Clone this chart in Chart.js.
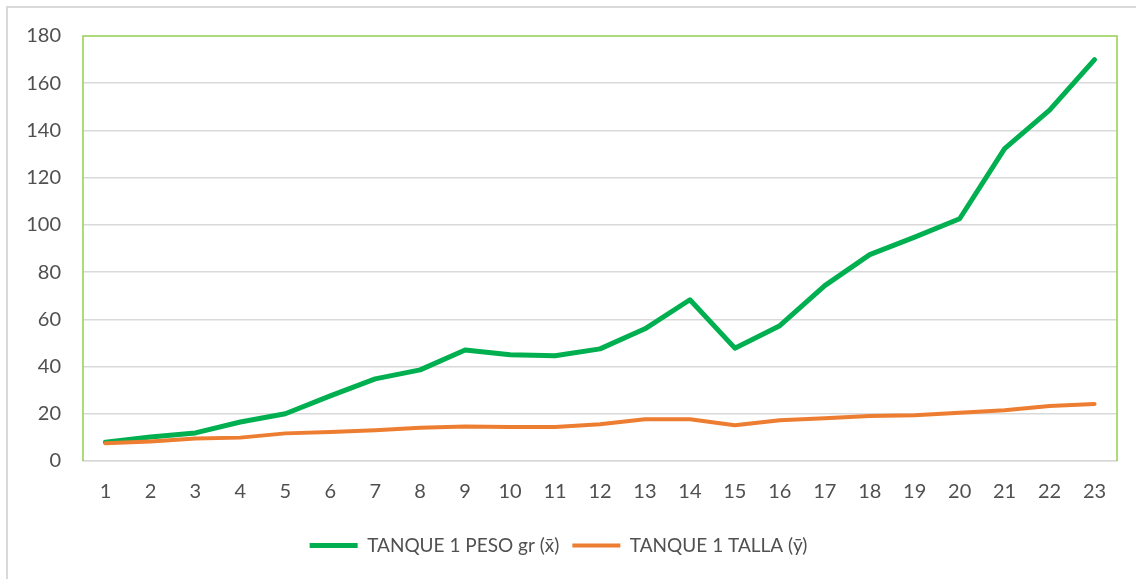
<!DOCTYPE html>
<html>
<head>
<meta charset="utf-8">
<script src="https://cdn.jsdelivr.net/npm/chart.js@4.4.1/dist/chart.umd.min.js"></script>
<style>
    html, body { margin: 0; padding: 0; background: #ffffff; }
    #wrap { position: absolute; left: 0; top: 0; width: 1136px; height: 579px; }
</style>
</head>
<body>
<div id="wrap"><canvas id="lineChart"></canvas></div>
<script>
// 横軸のラベル（1〜23）
const labels = ['1', '2', '3', '4', '5', '6', '7', '8', '9', '10', '11', '12',
                '13', '14', '15', '16', '17', '18', '19', '20', '21', '22', '23'];

// 系列名
const pesoLabel  = 'TANQUE 1 PESO gr (x̄)';
const tallaLabel = 'TANQUE 1 TALLA (ȳ)';

// 体重（緑の線）
const pesoValues = [8, 10.2, 11.9, 16.5, 20, 27.6, 34.8, 38.6, 47, 45, 44.6, 47.5,
                    56, 68.3, 47.8, 57.3, 74.3, 87.4, 94.8, 102.6, 132.3, 148.6, 170];

// 体長（オレンジの線）
const tallaValues = [7.5, 8.3, 9.5, 9.9, 11.7, 12.3, 13, 14.1, 14.6, 14.4, 14.4, 15.6,
                     17.7, 17.7, 15.1, 17.3, 18.1, 19.1, 19.4, 20.4, 21.5, 23.3, 24.1];

// 縦軸の範囲
const yMin  = 0;
const yMax  = 180;
const yStep = 20;

const textColor = '#505050';
const gridColor = '#D9D9D9';
const frameColor = '#92D050';
const fontFamily = 'Lato, "Open Sans", sans-serif';

// 外枠とプロットエリアの緑の枠を描くプラグイン
const framePlugin = {
    id: 'frame',
    beforeDraw(chart) {
        const ctx = chart.ctx;
        ctx.save();
        ctx.strokeStyle = gridColor;
        ctx.lineWidth = 2;
        ctx.beginPath();
        ctx.moveTo(7, chart.height);
        ctx.lineTo(7, 7);
        ctx.lineTo(chart.width, 7);
        ctx.stroke();
        ctx.restore();
    },
    beforeDatasetsDraw(chart) {
        const a = chart.chartArea;
        const ctx = chart.ctx;
        ctx.save();
        ctx.strokeStyle = frameColor;
        ctx.lineWidth = 1.5;
        ctx.beginPath();
        ctx.moveTo(a.left, a.bottom);
        ctx.lineTo(a.left, a.top);
        ctx.lineTo(a.right, a.top);
        ctx.lineTo(a.right, a.bottom);
        ctx.stroke();
        ctx.restore();
    }
};

const ctx = document.getElementById('lineChart').getContext('2d');
const lineChart = new Chart(ctx, {
    type: 'line',
    data: {
        labels: labels,
        datasets: [
            {
                label: pesoLabel,
                data: pesoValues,
                borderColor: '#00B050',
                backgroundColor: '#00B050',
                borderWidth: 5,
                borderCapStyle: 'round',
                borderJoinStyle: 'round',
                pointRadius: 0,
                tension: 0,
                order: 1
            },
            {
                label: tallaLabel,
                data: tallaValues,
                borderColor: '#ED7D31',
                backgroundColor: '#ED7D31',
                borderWidth: 4,
                borderCapStyle: 'round',
                borderJoinStyle: 'round',
                pointRadius: 0,
                tension: 0,
                order: 0
            }
        ]
    },
    options: {
        responsive: true,
        maintainAspectRatio: false,
        animation: false,
        layout: {
            padding: { left: 0, right: 19, top: 36, bottom: 14 }
        },
        plugins: {
            tooltip: { enabled: false },
            legend: {
                position: 'bottom',
                labels: {
                    usePointStyle: true,
                    pointStyle: 'line',
                    pointStyleWidth: 48,
                    boxHeight: 5,
                    padding: 13,
                    color: textColor,
                    font: { family: fontFamily, size: 19 },
                    sort: function(a, b) { return a.datasetIndex - b.datasetIndex; }
                }
            }
        },
        scales: {
            x: {
                offset: true,
                grid: { display: false, drawTicks: false },
                border: { color: gridColor, width: 1.5 },
                ticks: {
                    color: textColor,
                    padding: 19,
                    maxRotation: 0,
                    autoSkip: false,
                    font: { family: fontFamily, size: 20 }
                },
                afterFit: function(scale) { scale.height = 62; }
            },
            y: {
                min: yMin,
                max: yMax,
                grid: {
                    drawTicks: false,
                    lineWidth: 1.5,
                    color: function(c) {
                        return c.tick && c.tick.value === yMax ? 'rgba(0,0,0,0)' : gridColor;
                    }
                },
                border: { display: false },
                ticks: {
                    stepSize: yStep,
                    color: textColor,
                    padding: 22,
                    font: { family: fontFamily, size: 20 }
                },
                afterFit: function(scale) { scale.width = 83; }
            }
        }
    },
    plugins: [framePlugin]
});
</script>
</body>
</html>
